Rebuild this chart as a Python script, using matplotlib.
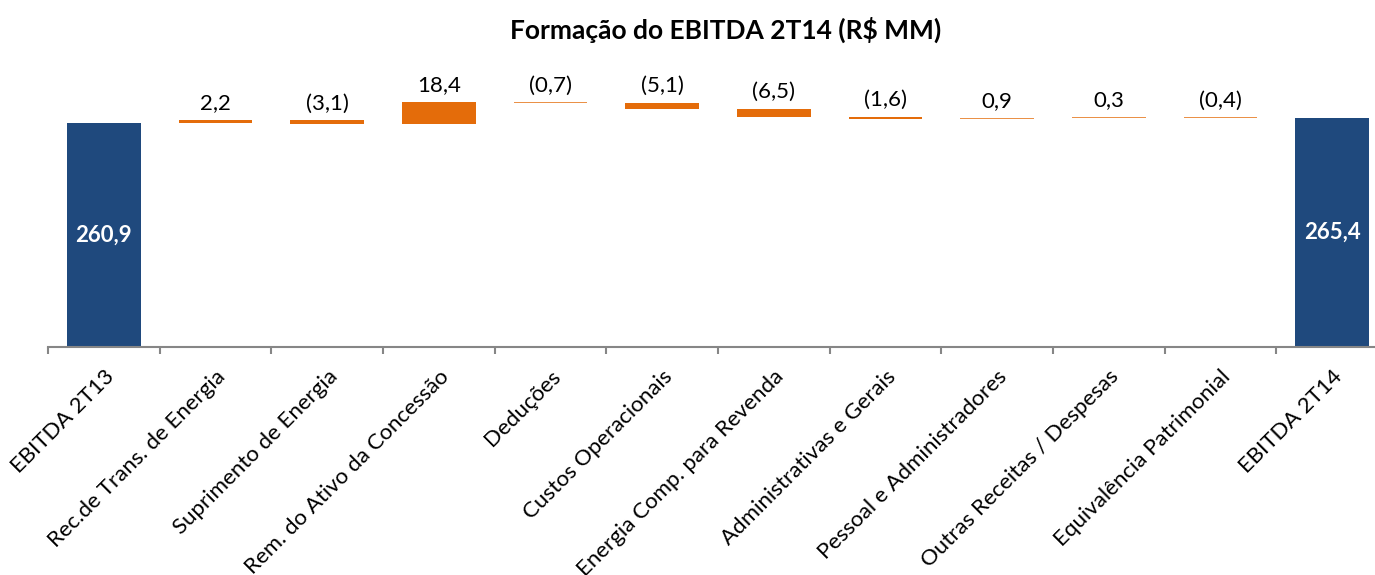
import matplotlib.pyplot as plt

plt.rcParams['font.family'] = ['Lato', 'DejaVu Sans']

# dados do gráfico (R$ MM)
categorias = ["EBITDA 2T13", "Rec.de Trans. de Energia", "Suprimento de Energia",
              "Rem. do Ativo da Concessão", "Deduções", "Custos Operacionais",
              "Energia Comp. para Revenda", "Administrativas e Gerais",
              "Pessoal e Administradores", "Outras Receitas / Despesas",
              "Equivalência Patrimonial", "EBITDA 2T14"]
inicial = 260.9
variacoes = [2.2, -3.1, 18.4, -0.7, -5.1, -6.5, -1.6, 0.9, 0.3, -0.4]
final = 265.4

azul = '#1F497D'
laranja = '#E46C0A'

fig = plt.figure(figsize=(13.75, 5.75), dpi=100)
ax = fig.add_axes([48/1375, 1 - 347/575, 1340/1375, 277/575])

largura = 0.66
base_y = 70.6

# barras de total
ax.bar(0, inicial - base_y, bottom=base_y, width=largura, color=azul)
ax.bar(len(categorias) - 1, final - base_y, bottom=base_y, width=largura, color=azul)
ax.text(0, (inicial + base_y) / 2, "260,9", color='white',
        fontsize=16, fontweight='bold', ha='center', va='center')
ax.text(len(categorias) - 1, (final + base_y) / 2, "265,4", color='white',
        fontsize=16, fontweight='bold', ha='center', va='center')

# barras de variação
acumulado = inicial
for i, v in enumerate(variacoes):
    x = i + 1
    inicio = acumulado
    fim = acumulado + v
    baixo = min(inicio, fim)
    alfa = 1.0 if abs(v) > 1 else 0.75
    ax.bar(x, abs(v), bottom=baixo, width=largura, color=laranja, alpha=alfa)
    texto = ("%.1f" % abs(v)).replace('.', ',')
    if v < 0:
        texto = "(" + texto + ")"
    ax.annotate(texto, (x, max(inicio, fim)), xytext=(0, 5),
                textcoords='offset points', ha='center', va='bottom', fontsize=16)
    acumulado = fim

ax.set_xlim(-0.5, len(categorias) - 0.5)
ax.set_ylim(base_y, base_y + 277 / 1.177)

for s in ['top', 'right', 'left']:
    ax.spines[s].set_visible(False)
ax.spines['bottom'].set_color('#868686')
ax.spines['bottom'].set_linewidth(1.5)
ax.set_yticks([])

# marcas nos limites das categorias, rótulos no centro
ax.set_xticks([i - 0.5 for i in range(len(categorias) + 1)])
ax.set_xticklabels([])
ax.tick_params(axis='x', which='major', length=5, width=1.5, color='#868686')
ax.set_xticks(range(len(categorias)), minor=True)
ax.set_xticklabels(categorias, minor=True, rotation=45, ha='right',
                   rotation_mode='anchor', fontsize=16)
ax.tick_params(axis='x', which='minor', length=0, pad=14)

fig.text(726/1375, 1 - 30/575, "Formação do EBITDA 2T14 (R$ MM)",
         ha='center', va='center', fontsize=19, fontweight='bold')

fig.savefig('out.png', dpi=100)
